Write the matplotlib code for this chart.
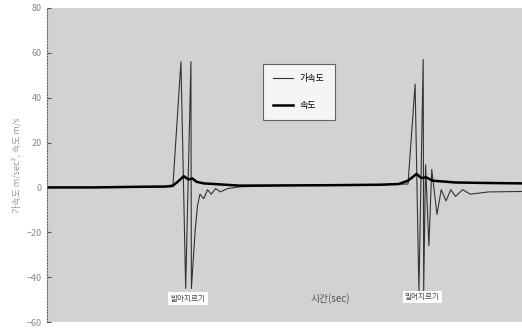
import matplotlib.pyplot as plt
import numpy as np

plt.rcParams['font.family'] = ['Noto Sans CJK KR', 'DejaVu Sans']

# time axis (arbitrary units, no tick labels in the original)
t_acc = [0.0, 1.0, 2.0, 2.5, 2.65, 2.82, 2.92, 3.03, 3.04, 3.12, 3.17, 3.22, 3.30, 3.38,
         3.46, 3.55, 3.65, 3.80, 4.06, 5.0, 6.0, 7.0, 7.55, 7.60, 7.75, 7.83, 7.92, 7.93,
         7.97, 8.04, 8.10, 8.21, 8.30, 8.40, 8.50, 8.60, 8.75, 8.91, 9.3, 10.0]
accel = [0.0, 0.0, 0.2, 0.3, 0.3, 56, -45, 56, -45, -19, -8, -3, -5, -1,
         -3, -0.5, -2, -0.5, 0.3, 0.8, 1.0, 1.2, 1.5, 1.5, 46, -46, 57, -46,
         10, -26, 8, -12, -1, -6, -1, -4, -1, -3, -2, -1.8]

t_vel = [0.0, 1.0, 2.0, 2.5, 2.65, 2.75, 2.88, 2.98, 3.06, 3.15, 3.30, 4.06, 5.0, 6.0,
         7.0, 7.4, 7.6, 7.78, 7.88, 7.98, 8.12, 8.6, 9.2, 10.0]
veloc = [0.0, 0.0, 0.3, 0.4, 0.8, 2.5, 5.0, 3.5, 4.0, 2.5, 1.8, 0.8, 0.9, 1.0,
         1.2, 1.5, 3.0, 6.0, 4.2, 4.5, 3.0, 2.2, 2.0, 1.8]

y_ticks = [-60, -40, -20, 0, 20, 40, 60, 80]

fig = plt.figure(figsize=(5.22, 3.28), dpi=100)
ax = fig.add_axes([0.09, 0.018, 0.91, 0.958])
ax.set_facecolor('#d2d2d2')

ax.plot(t_acc, accel, color='#333333', lw=0.8, label='가속도')
ax.plot(t_vel, veloc, color='black', lw=1.8, label='속도')

ax.set_xlim(0, 10)
ax.set_ylim(-60, 80)
ax.set_xticks([])
ax.set_yticks(y_ticks)
ax.tick_params(axis='y', labelsize=6.5, labelcolor='#888888', length=3, direction='in', color='#555555')
for s in ['top', 'right', 'bottom']:
    ax.spines[s].set_visible(False)
ax.spines['left'].set_color('#666666')
ax.spines['left'].set_linestyle(':')

ax.set_ylabel('가속도 m/sec², 속도 m/s', fontsize=6.5, color='#999999', labelpad=4)

leg = ax.legend(loc='upper left', bbox_to_anchor=(0.445, 0.835), fontsize=6.5,
                frameon=True, fancybox=False, edgecolor='#444444', handlelength=2.2,
                borderpad=1.1, labelspacing=2.0)
leg.get_frame().set_facecolor('white')
leg.get_frame().set_linewidth(0.8)

box = dict(facecolor='white', edgecolor='none', pad=1.5)
ax.text(2.97, -49.5, '밟아지르기', fontsize=5.5, color='#444444', ha='center', va='center', bbox=box)
ax.text(7.9, -49, '밀어지르기', fontsize=5.5, color='#444444', ha='center', va='center', bbox=box)
ax.text(5.96, -49.5, '시간(sec)', fontsize=7, color='#555555', ha='center', va='center')

fig.savefig('out.png', dpi=100)
